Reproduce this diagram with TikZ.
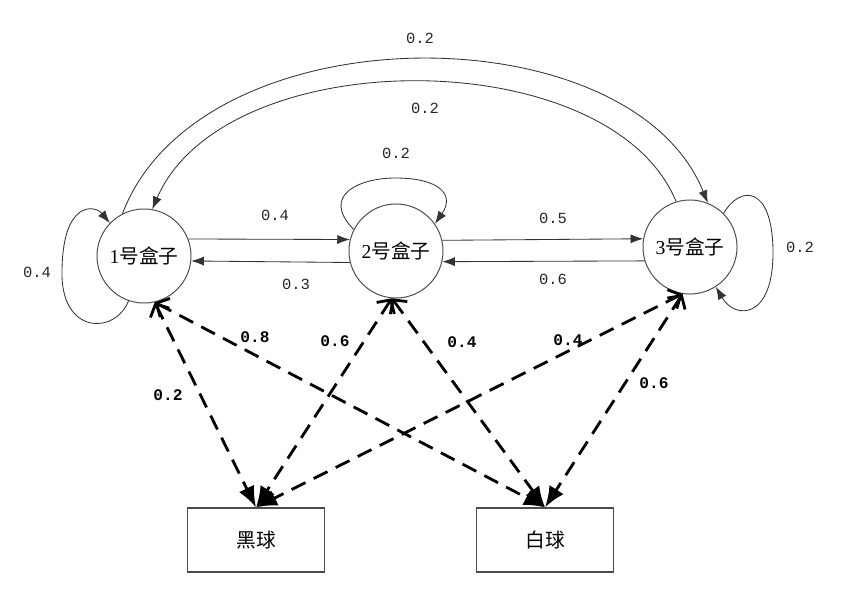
\documentclass[tikz,border=0pt]{standalone}
\usepackage{fontspec}
\setmainfont{Liberation Serif}
\setmonofont{Liberation Mono}
\newfontfamily\cjk{Noto Sans CJK SC}
\usetikzlibrary{arrows.meta, positioning}

\tikzset{
  boxnode/.style={circle, draw=black!70, line width=0.7pt, minimum size=2.35cm, inner sep=0pt,
    font=\fontsize{14}{16}\selectfont},
  ballnode/.style={rectangle, draw=black!70, line width=0.8pt, minimum width=3.42cm, minimum height=1.6cm,
    font=\fontsize{14}{16}\cjk},
  trans/.style={draw=black!80, line width=0.6pt, -{Latex[length=9pt, width=6.5pt]}},
  emit/.style={line width=2pt, dash pattern=on 11pt off 6.5pt,
    {Straight Barb[length=7pt, width=15pt]}-{Latex[length=15pt, width=12pt]}},
  prob/.style={font=\fontsize{11}{12}\ttfamily, text=black!85, inner sep=1pt},
  bprob/.style={font=\fontsize{11.5}{12}\ttfamily\bfseries, inner sep=1pt},
}

\begin{document}
\begin{tikzpicture}[x=0.025cm, y=-0.025cm]
\useasboundingbox (0,0) rectangle (866,604);

% Hidden states and observations
\node[boxnode] (c1) at (144,256) {1{\cjk 号盒子}};
\node[boxnode] (c2) at (396,251) {2{\cjk 号盒子}};
\node[boxnode] (c3) at (690,247) {3{\cjk 号盒子}};
\node[ballnode] (black) at (256,540) {黑球};
\node[ballnode] (white) at (545,540) {白球};

% Neighbour transitions
\draw[trans] (c1.21)  -- (c2.166);
\draw[trans] (c2.194) -- (c1.-6);
\draw[trans] (c2.13)  -- (c3.170);
\draw[trans] (c3.197) -- (c2.-13);
\node[prob] (p12) at (275,215) {0.4};
\node[prob] (p21) at (296,284) {0.3};
\node[prob] (p23) at (553,218) {0.5};
\node[prob] (p32) at (553,279) {0.6};

% Long arcs between 1 and 3
\draw[trans] (c1.117) .. controls (200,10) and (630,10) .. (c3.68);
\draw[trans] (c3.107) .. controls (610,41) and (225,41) .. (c1.80);
\node[prob] (p13) at (420,38) {0.2};
\node[prob] (p31) at (425,108) {0.2};

% Self loops
\draw[trans] (c1.251) .. controls (115,335) and (60,335) .. (62,270)
  .. controls (63,200) and (95,205) .. (c1.136);
\draw[trans] (c2.153) .. controls (320,195) and (360,178) .. (395,178)
  .. controls (440,178) and (455,195) .. (c2.35);
\draw[trans] (c3.45) .. controls (740,185) and (772,185) .. (773,250)
  .. controls (774,320) and (735,320) .. (c3.303);
\node[prob] (p11) at (37,272) {0.4};
\node[prob] (p22) at (396,153) {0.2};
\node[prob] (p33) at (800,247) {0.2};

% Emission probabilities
\draw[emit] (c1.283) -- (black.north);
\draw[emit] (c1.283) -- (white.north);
\draw[emit] (c2.265) -- (black.north);
\draw[emit] (c2.265) -- (white.north);
\draw[emit] (c3.261) -- (black.north);
\draw[emit] (c3.261) -- (white.north);
\node[bprob] (e1b) at (168,395) {0.2};
\node[bprob] (e1w) at (255,337) {0.8};
\node[bprob] (e2b) at (335,341) {0.6};
\node[bprob] (e2w) at (462,342) {0.4};
\node[bprob] (e3b) at (568,340) {0.4};
\node[bprob] (e3w) at (654,383) {0.6};
\end{tikzpicture}
\end{document}
